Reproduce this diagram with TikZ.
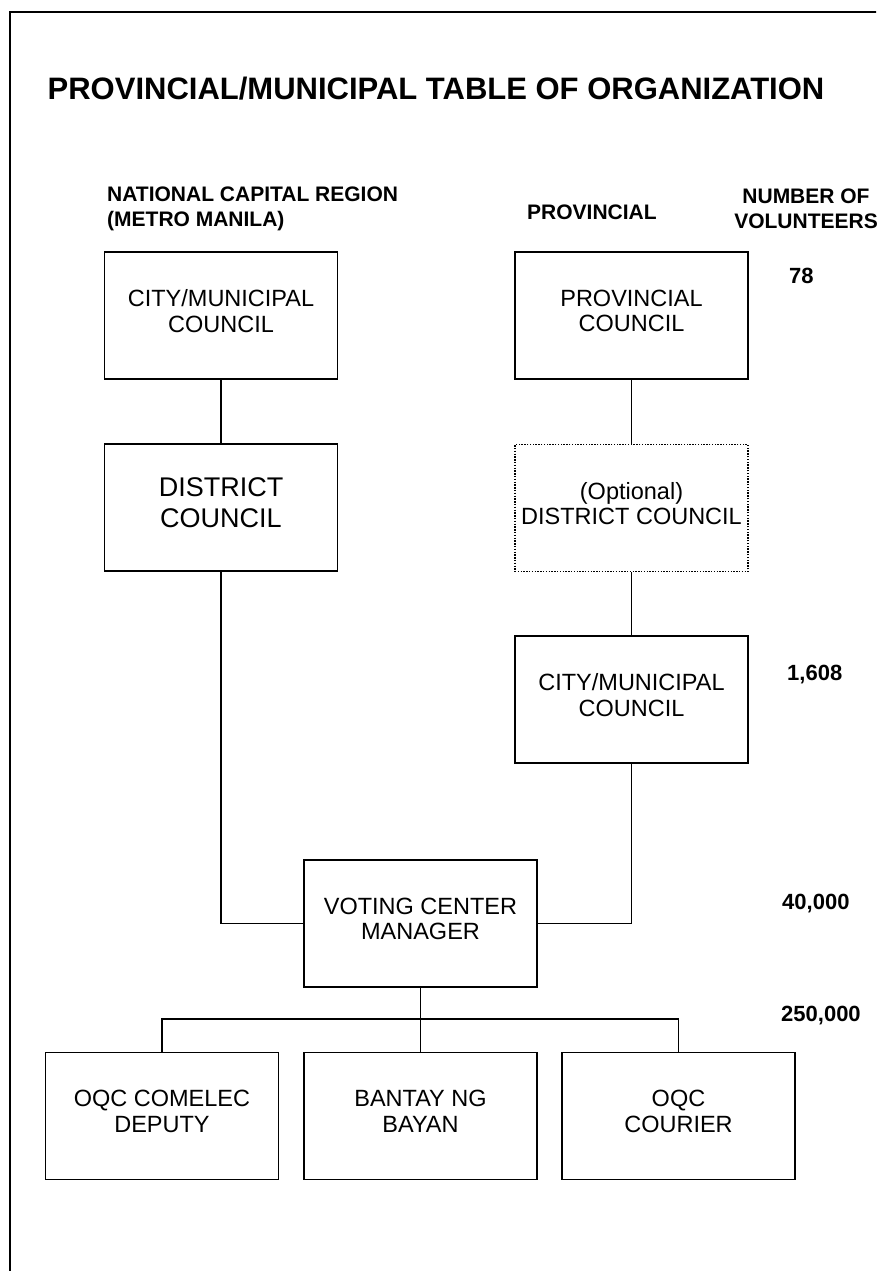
\documentclass[tikz,border=0pt]{standalone}
\usepackage{fontspec}
\setmainfont{Liberation Sans}
\begin{document}
\begin{tikzpicture}[x=1pt,y=-1pt,
  every node/.style={inner sep=0pt},
  orgbox/.style={draw, line width=1.9pt, minimum width=233pt, minimum height=127pt,
    align=center, text depth=9pt, font=\fontsize{23.5pt}{25.5pt}\selectfont},
  optbox/.style={orgbox, line width=1.4pt, dash pattern=on 1.4pt off 1.4pt},
  bigbox/.style={orgbox, font=\fontsize{27pt}{31pt}\selectfont},
  link/.style={line width=1.9pt},
  head/.style={font=\bfseries\fontsize{21pt}{25pt}\selectfont, align=left, anchor=west},
  count/.style={font=\bfseries\fontsize{22pt}{25pt}\selectfont, anchor=west}
]
\useasboundingbox (0,0) rectangle (876,1271);
\clip (0,0) rectangle (876,1271);
\draw[line width=1.9pt] (10,12) rectangle (900,1300);

\node[font=\bfseries\fontsize{31pt}{37pt}\selectfont] (title) at (436,89) {PROVINCIAL/MUNICIPAL TABLE OF ORGANIZATION};

\node[head] (ncrhead) at (107,208.5) {NATIONAL CAPITAL REGION\\(METRO MANILA)};
\node[head] (provhead) at (527,212) {PROVINCIAL};
\node[font=\bfseries\fontsize{21pt}{25pt}\selectfont, align=center] (numhead) at (806,208.5) {NUMBER OF\\VOLUNTEERS};

\node[count] (n1) at (789,276) {78};
\node[count] (n2) at (787,675) {1,608};
\node[count] (n3) at (782,904) {40,000};
\node[count] (n4) at (781,1016) {250,000};

\node[orgbox] (ncr1) at (221,315.5) {CITY/MUNICIPAL\\COUNCIL};
\node[bigbox] (ncr2) at (221,507.5) {DISTRICT\\COUNCIL};
\node[orgbox] (prov1) at (631.5,315.5) {PROVINCIAL\\COUNCIL};
\node[optbox] (prov2) at (631.5,508) {(Optional)\\DISTRICT COUNCIL};
\node[orgbox] (prov3) at (631.5,699.5) {CITY/MUNICIPAL\\COUNCIL};
\node[orgbox] (vcm) at (420.5,923.5) {VOTING CENTER\\MANAGER};
\node[orgbox] (b1) at (162,1116) {OQC COMELEC\\DEPUTY};
\node[orgbox] (b2) at (420.5,1116) {BANTAY NG\\BAYAN};
\node[orgbox] (b3) at (678.5,1116) {OQC\\COURIER};

\coordinate (bus) at (420.5,1019);

\draw[link] (ncr1) -- (ncr2);
\draw[link] (prov1) -- (prov2);
\draw[link] (prov2) -- (prov3);
\draw[link] (ncr2.south) |- (vcm.west);
\draw[link] (prov3.south) |- (vcm.east);
\draw[link] (vcm) -- (b2);
\draw[link] (b1.north) |- (bus) -| (b3.north);
\end{tikzpicture}
\end{document}
